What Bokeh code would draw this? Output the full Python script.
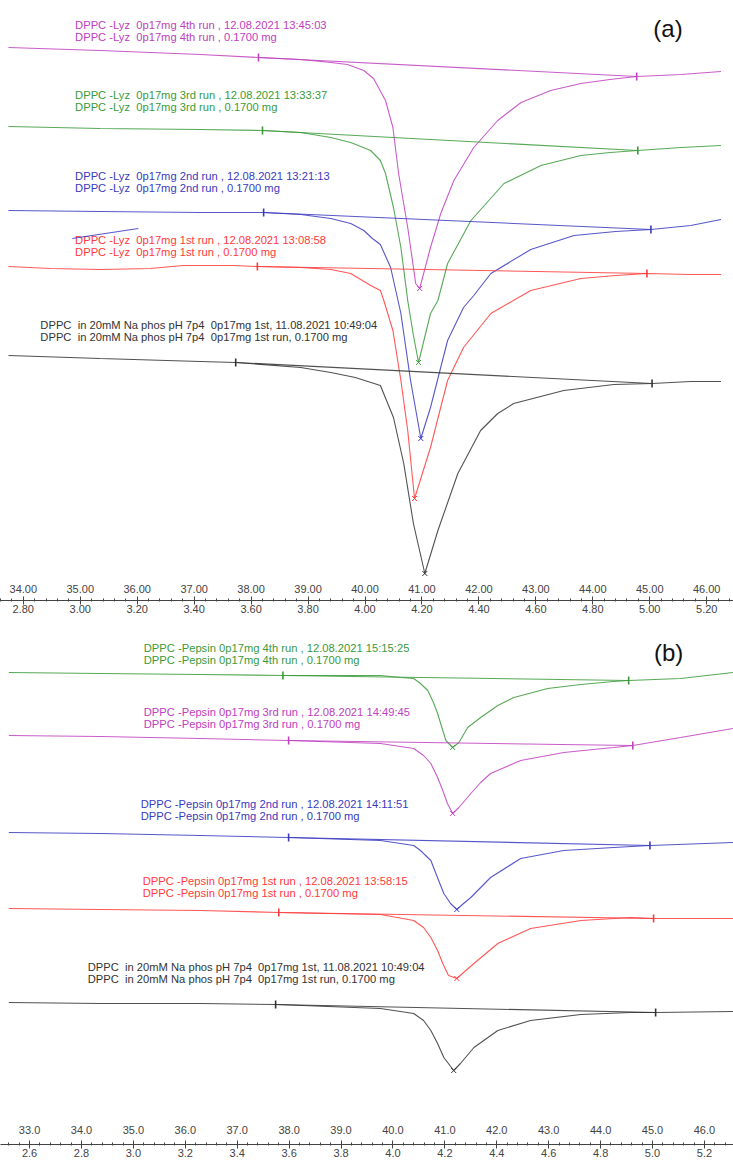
import numpy as np
from bokeh.plotting import figure
from bokeh.models import (Range1d, LinearAxis, SingleIntervalTicker, FixedTicker,
                          NumeralTickFormatter)
from bokeh.layouts import column
from bokeh.embed import file_html
from bokeh.resources import INLINE
from bokeh.core.properties import value

FONT = "Liberation Sans"

# ---------------- Panel (a): DPPC + lysozyme ----------------
lyz4_T = [33.74, 35.35, 37.11, 38.13, 38.87, 39.40, 39.69, 39.98, 40.15, 40.36, 40.49, 40.59, 40.75, 40.89, 40.96,
          41.15, 41.33, 41.56, 41.91, 42.33, 42.74, 43.26, 43.79, 44.30, 44.77, 45.55, 46.25]
lyz4_hf = [-0.47, -0.50, -0.54, -0.57, -0.59, -0.62, -0.64, -0.70, -0.78, -1.00, -1.27, -1.73, -2.27, -2.83, -2.88,
           -2.47, -2.13, -1.80, -1.47, -1.20, -1.02, -0.90, -0.83, -0.79, -0.76, -0.74, -0.71]

lyz3_T = [33.74, 35.35, 37.11, 38.20, 38.87, 39.40, 39.75, 40.10, 40.27, 40.36, 40.50, 40.63, 40.75, 40.85, 40.94,
          41.15, 41.28, 41.45, 41.86, 42.44, 43.09, 43.79, 44.30, 44.79, 45.55, 46.25]
lyz3_hf = [-1.26, -1.28, -1.29, -1.30, -1.32, -1.37, -1.42, -1.50, -1.60, -1.73, -2.07, -2.47, -3.00, -3.35, -3.62,
           -3.13, -3.00, -2.63, -2.20, -1.83, -1.65, -1.55, -1.52, -1.50, -1.47, -1.45]

lyz2_T = [33.74, 35.35, 37.11, 38.22, 38.87, 39.40, 39.75, 39.98, 40.13, 40.27, 40.45, 40.63, 40.80, 40.98,
          41.15, 41.45, 41.73, 41.91, 42.21, 42.91, 43.67, 44.40, 45.02, 45.72, 46.25]
lyz2_hf = [-2.10, -2.11, -2.12, -2.12, -2.14, -2.18, -2.23, -2.30, -2.38, -2.44, -2.67, -3.13, -3.80, -4.38,
           -4.07, -3.40, -3.07, -2.95, -2.73, -2.49, -2.35, -2.31, -2.29, -2.25, -2.19]
lyz2_stray_T = [34.86, 36.02]
lyz2_stray_hf = [-2.38, -2.28]

lyz1_T = [33.74, 34.48, 35.35, 36.23, 36.81, 37.69, 38.11, 38.87, 39.40, 39.75, 40.10, 40.27, 40.33, 40.49, 40.63,
          40.75, 40.87, 41.15, 41.45, 41.73, 42.21, 42.91, 43.79, 44.40, 44.95, 45.72, 46.25]
lyz1_hf = [-2.66, -2.68, -2.69, -2.68, -2.65, -2.65, -2.66, -2.67, -2.69, -2.73, -2.85, -2.90, -3.00, -3.30, -3.80,
           -4.30, -4.98, -4.47, -3.80, -3.47, -3.13, -2.90, -2.78, -2.75, -2.73, -2.74, -2.74]

refa_T = [33.74, 35.35, 37.11, 37.73, 38.87, 39.40, 39.83, 40.27, 40.50, 40.68, 40.85, 41.05,
          41.28, 41.63, 42.03, 42.33, 42.61, 43.49, 44.37, 45.04, 45.72, 46.25]
refa_hf = [-3.55, -3.58, -3.61, -3.62, -3.67, -3.72, -3.77, -3.85, -4.17, -4.63, -5.23, -5.73,
           -5.30, -4.73, -4.30, -4.13, -4.03, -3.90, -3.84, -3.83, -3.81, -3.81]

a_on_T = [38.13, 38.20, 38.22, 38.11, 37.73]
a_on_hf = [-0.57, -1.30, -2.12, -2.66, -3.62]
a_end_T = [44.77, 44.79, 45.02, 44.95, 45.04]
a_end_hf = [-0.76, -1.50, -2.29, -2.73, -3.83]

a_line1 = ["DPPC -Lyz  0p17mg 4th run , 12.08.2021 13:45:03",
           "DPPC -Lyz  0p17mg 3rd run , 12.08.2021 13:33:37",
           "DPPC -Lyz  0p17mg 2nd run , 12.08.2021 13:21:13",
           "DPPC -Lyz  0p17mg 1st run , 12.08.2021 13:08:58",
           "DPPC  in 20mM Na phos pH 7p4  0p17mg 1st, 11.08.2021 10:49:04"]
a_line2 = ["DPPC -Lyz  0p17mg 4th run , 0.1700 mg",
           "DPPC -Lyz  0p17mg 3rd run , 0.1700 mg",
           "DPPC -Lyz  0p17mg 2nd run , 0.1700 mg",
           "DPPC -Lyz  0p17mg 1st run , 0.1700 mg",
           "DPPC  in 20mM Na phos pH 7p4  0p17mg 1st run, 0.1700 mg"]
a_lab_T = [34.91, 34.91, 34.91, 34.91, 34.30]
a_lab_hf = [-0.24, -0.94, -1.75, -2.39, -3.24]

# ---------------- Panel (b): DPPC + pepsin ----------------
pep4_T = [32.60, 34.37, 36.29, 37.88, 39.76, 40.15, 40.40, 40.53, 40.67, 40.78, 40.86, 40.96, 41.02, 41.15,
          41.27, 41.44, 41.69, 42.02, 42.33, 42.98, 43.62, 44.25, 44.54, 45.54, 46.55]
pep4_hf = [-0.52, -0.53, -0.54, -0.55, -0.55, -0.57, -0.58, -0.63, -0.70, -0.82, -0.93, -1.10, -1.20, -1.27,
           -1.22, -1.07, -0.97, -0.85, -0.77, -0.68, -0.64, -0.61, -0.60, -0.58, -0.52]

pep3_T = [32.60, 34.37, 36.29, 37.99, 39.76, 40.40, 40.59, 40.73, 40.86, 40.96, 41.05, 41.15,
          41.27, 41.50, 41.69, 41.88, 42.46, 43.29, 44.25, 44.62, 45.54, 46.55]
pep3_hf = [-1.15, -1.16, -1.18, -1.20, -1.23, -1.28, -1.35, -1.43, -1.57, -1.70, -1.83, -1.93,
           -1.87, -1.73, -1.62, -1.53, -1.40, -1.32, -1.27, -1.25, -1.17, -1.08]

pep2_T = [32.60, 34.37, 36.29, 37.99, 39.76, 40.40, 40.53, 40.73, 40.88, 40.98, 41.11, 41.23,
          41.36, 41.50, 41.69, 41.88, 42.46, 43.29, 44.25, 44.95, 46.55]
pep2_hf = [-2.12, -2.13, -2.15, -2.17, -2.20, -2.25, -2.30, -2.40, -2.60, -2.73, -2.83, -2.89,
           -2.83, -2.77, -2.67, -2.57, -2.38, -2.30, -2.27, -2.25, -2.22]

pep1_T = [32.60, 34.37, 36.29, 37.80, 39.76, 40.40, 40.59, 40.73, 40.86, 40.96, 41.07, 41.23,
          41.36, 41.56, 42.02, 42.65, 43.62, 44.58, 45.02, 46.55]
pep1_hf = [-2.88, -2.89, -2.90, -2.92, -2.94, -3.00, -3.07, -3.17, -3.30, -3.43, -3.55, -3.58,
           -3.52, -3.43, -3.23, -3.08, -3.00, -2.97, -2.98, -2.98]

refb_T = [32.60, 34.37, 36.29, 37.74, 39.76, 40.40, 40.59, 40.73, 40.86, 40.98, 41.17,
          41.30, 41.56, 42.02, 42.65, 43.62, 44.58, 45.06, 46.55]
refb_hf = [-3.82, -3.83, -3.83, -3.84, -3.88, -3.93, -4.00, -4.10, -4.23, -4.37, -4.50,
           -4.43, -4.27, -4.10, -4.00, -3.94, -3.92, -3.92, -3.91]

b_on_T = [37.88, 37.99, 37.99, 37.80, 37.74]
b_on_hf = [-0.55, -1.20, -2.17, -2.92, -3.84]
b_end_T = [44.54, 44.62, 44.95, 45.02, 45.06]
b_end_hf = [-0.60, -1.25, -2.25, -2.98, -3.92]

b_line1 = ["DPPC -Pepsin 0p17mg 4th run , 12.08.2021 15:15:25",
           "DPPC -Pepsin 0p17mg 3rd run , 12.08.2021 14:49:45",
           "DPPC -Pepsin 0p17mg 2nd run , 12.08.2021 14:11:51",
           "DPPC -Pepsin 0p17mg 1st run , 12.08.2021 13:58:15",
           "DPPC  in 20mM Na phos pH 7p4  0p17mg 1st, 11.08.2021 10:49:04"]
b_line2 = ["DPPC -Pepsin 0p17mg 4th run , 0.1700 mg",
           "DPPC -Pepsin 0p17mg 3rd run , 0.1700 mg",
           "DPPC -Pepsin 0p17mg 2nd run , 0.1700 mg",
           "DPPC -Pepsin 0p17mg 1st run , 0.1700 mg",
           "DPPC  in 20mM Na phos pH 7p4  0p17mg 1st run, 0.1700 mg"]
b_lab_T = [35.20, 35.20, 35.14, 35.18, 34.12]
b_lab_hf = [-0.27, -0.91, -1.83, -2.60, -3.46]

MAGENTA, GREEN, BLUE, RED, BLACK = "#C040C0", "#3A9A3A", "#3A3AC0", "#FF3A3A", "#333333"
a_colors = [MAGENTA, GREEN, BLUE, RED, BLACK]
b_colors = [GREEN, MAGENTA, BLUE, RED, BLACK]


# time axis: t(min) = 2.6 + (T - 33) / 5   (5 K/min scan)
def to_time(T):
    return 2.6 + (T - 33.0) / 5.0


def keep_spaces(s):
    # keep the double blanks of the instrument labels visible in SVG text
    return s.replace("  ", " \u00a0")


def make_panel(traces, colors, on_T, on_hf, end_T, end_hf, l1, l2, lab_T, lab_hf,
               xr, frame_h, total_h, y_lo, fmt_T, fmt_t, tag, tag_T, tag_hf, standoff, spacer):
    p = figure(width=733, frame_width=733, frame_height=frame_h,
               x_range=Range1d(*xr), y_range=Range1d(y_lo, 0),
               x_axis_location=None, y_axis_location=None,
               toolbar_location=None, output_backend="svg",
               min_border=0, min_border_left=0, min_border_right=0,
               min_border_top=0, min_border_bottom=total_h - frame_h)
    p.outline_line_color = None
    p.grid.visible = False
    p.extra_x_ranges = {"time": Range1d(to_time(xr[0]), to_time(xr[1]))}

    for (T, hf), c in zip(traces, colors):
        p.line(T, hf, line_color=c, line_width=1.1, line_alpha=0.85)
        i = int(np.argmin(hf))
        p.scatter([T[i]], [hf[i]], marker="x", size=7, line_color=c, line_width=1)
    p.segment(x0=on_T, y0=on_hf, x1=end_T, y1=end_hf, line_color=colors,
              line_width=1.1, line_alpha=0.85)
    p.scatter(on_T + end_T, on_hf + end_hf, marker="dash", angle=np.pi / 2, size=8,
              line_color=colors + colors, line_width=1.6)

    dy = 0.125
    p.text(lab_T, lab_hf, text=[keep_spaces(s) for s in l1], text_color=colors, text_font=value(FONT),
           text_font_size="11.2px", text_baseline="middle", text_align="left")
    p.text(lab_T, [h - dy for h in lab_hf], text=[keep_spaces(s) for s in l2], text_color=colors,
           text_font=value(FONT), text_font_size="11.2px", text_baseline="middle", text_align="left")
    p.text([tag_T], [tag_hf], text=[tag], text_color="#111111", text_font=value(FONT),
           text_font_size="24px", text_baseline="middle", text_align="center")

    ax_T = LinearAxis(ticker=SingleIntervalTicker(interval=1, num_minor_ticks=0),
                      formatter=NumeralTickFormatter(format=fmt_T))
    ax_T.axis_line_color = None
    ax_T.major_tick_line_color = None
    ax_T.minor_tick_line_color = None
    ax_T.major_tick_in = 0
    ax_T.major_tick_out = 0
    ax_T.major_label_standoff = standoff
    ax_T.major_label_text_font = FONT
    ax_T.major_label_text_font_size = "11px"
    ax_T.major_label_text_color = "#444444"
    p.add_layout(ax_T, "below")

    # invisible gap between the temperature labels and the time axis line
    ax_sp = LinearAxis(ticker=FixedTicker(ticks=[40.1]))
    ax_sp.axis_line_color = None
    ax_sp.major_tick_line_color = "#ffffff"
    ax_sp.minor_tick_line_color = None
    ax_sp.major_tick_in = 0
    ax_sp.major_tick_out = spacer
    ax_sp.major_label_standoff = 0
    ax_sp.major_label_text_alpha = 0
    ax_sp.major_label_text_font_size = "1px"
    p.add_layout(ax_sp, "below")

    ax_t = LinearAxis(x_range_name="time",
                      ticker=SingleIntervalTicker(interval=0.2, num_minor_ticks=5),
                      formatter=NumeralTickFormatter(format=fmt_t))
    ax_t.axis_line_color = "#444444"
    ax_t.major_tick_line_color = "#444444"
    ax_t.minor_tick_line_color = "#444444"
    ax_t.major_tick_in = 4
    ax_t.major_tick_out = 4
    ax_t.minor_tick_in = 2
    ax_t.minor_tick_out = 1
    ax_t.major_label_standoff = 0
    ax_t.major_label_text_font = FONT
    ax_t.major_label_text_font_size = "11px"
    ax_t.major_label_text_color = "#444444"
    p.add_layout(ax_t, "below")
    return p


pa = make_panel([(lyz4_T, lyz4_hf), (lyz3_T, lyz3_hf), (lyz2_T, lyz2_hf), (lyz1_T, lyz1_hf), (refa_T, refa_hf)],
                a_colors, a_on_T, a_on_hf, a_end_T, a_end_hf, a_line1, a_line2, a_lab_T, a_lab_hf,
                (33.60, 46.47), 580, 620, -5.80, "0.00", "0.00", "(a)", 45.32, -0.28, 4, 5)
pa.line(lyz2_stray_T, lyz2_stray_hf, line_color=BLUE, line_width=1.1, line_alpha=0.85)

pb = make_panel([(pep4_T, pep4_hf), (pep3_T, pep3_hf), (pep2_T, pep2_hf), (pep1_T, pep1_hf), (refb_T, refb_hf)],
                b_colors, b_on_T, b_on_hf, b_end_T, b_end_hf, b_line1, b_line2, b_lab_T, b_lab_hf,
                (32.44, 46.56), 500, 540, -5.00, "0.0", "0.0", "(b)", 45.31, -0.32, 5, 8)

layout = column(pa, pb, spacing=0)
open("out.html", "w").write(file_html(layout, INLINE))
